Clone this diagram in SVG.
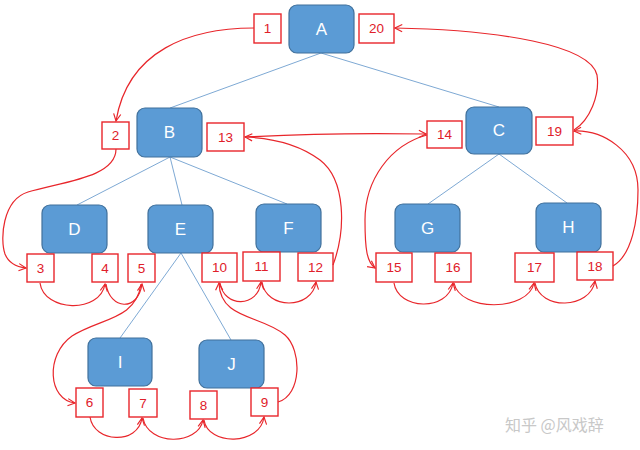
<svg xmlns="http://www.w3.org/2000/svg" width="640" height="450" viewBox="0 0 640 450">
<style>
.node rect{fill:#5b9bd5;stroke:#41719c;stroke-width:1.2}
.node text{fill:#ffffff;font-family:"Liberation Sans",Arial,sans-serif;font-size:17px;text-anchor:middle;dominant-baseline:central}
.num rect{fill:#ffffff;stroke:#e8262b;stroke-width:1.4}
.num text{fill:#e0202a;font-family:"Liberation Sans",Arial,sans-serif;font-size:13.5px;text-anchor:middle;dominant-baseline:central}
.tree line{stroke:#7ea9d4;stroke-width:1}
.red path{fill:none;stroke:#e8262b;stroke-width:1.2;marker-end:url(#ah)}
.wm{fill:#c8c8c8;font-family:"Noto Sans CJK SC","Liberation Sans",sans-serif;font-size:16px}
</style>
<defs>
<marker id="ah" viewBox="0 0 10 10" refX="9" refY="5" markerWidth="9" markerHeight="9" markerUnits="userSpaceOnUse" orient="auto">
<path d="M1,1 L9,5 L1,9" fill="none" stroke="#e8262b" stroke-width="1.3"/>
</marker>
</defs>
<rect width="640" height="450" fill="#ffffff"/>
<g id="tree-edges" class="tree">
<line x1="321" y1="53" x2="170" y2="108"/>
<line x1="321" y1="53" x2="499" y2="107"/>
<line x1="170" y1="157" x2="77" y2="205"/>
<line x1="170" y1="157" x2="182" y2="205"/>
<line x1="170" y1="157" x2="287" y2="204"/>
<line x1="499" y1="154" x2="428" y2="204"/>
<line x1="499" y1="154" x2="567" y2="203"/>
<line x1="181" y1="253" x2="120" y2="338"/>
<line x1="181" y1="253" x2="231" y2="340"/>
</g>
<g id="nodeA" class="node"><rect x="289" y="5" width="65" height="48" rx="8"/><text x="321.5" y="29">A</text></g>
<g id="nodeB" class="node"><rect x="137" y="108" width="65" height="49" rx="8"/><text x="169.5" y="132.5">B</text></g>
<g id="nodeC" class="node"><rect x="466" y="107" width="66" height="47" rx="8"/><text x="499" y="130.5">C</text></g>
<g id="nodeD" class="node"><rect x="42" y="205" width="65" height="48" rx="8"/><text x="74.5" y="229">D</text></g>
<g id="nodeE" class="node"><rect x="148" y="205" width="65" height="48" rx="8"/><text x="180.5" y="229">E</text></g>
<g id="nodeF" class="node"><rect x="256" y="204" width="65" height="48" rx="8"/><text x="288.5" y="228">F</text></g>
<g id="nodeG" class="node"><rect x="395" y="204" width="65" height="48" rx="8"/><text x="427.5" y="228">G</text></g>
<g id="nodeH" class="node"><rect x="536" y="203" width="65" height="49" rx="8"/><text x="568.5" y="227.5">H</text></g>
<g id="nodeI" class="node"><rect x="88" y="338" width="64" height="48" rx="8"/><text x="120" y="362">I</text></g>
<g id="nodeJ" class="node"><rect x="199" y="340" width="65" height="48" rx="8"/><text x="231.5" y="364">J</text></g>
<g id="s1" class="num"><rect x="254" y="14" width="27" height="29"/><text x="267.5" y="28.5">1</text></g>
<g id="s2" class="num"><rect x="102" y="122" width="27" height="27"/><text x="115.5" y="135.5">2</text></g>
<g id="s3" class="num"><rect x="27" y="254" width="27" height="28"/><text x="40.5" y="268">3</text></g>
<g id="s4" class="num"><rect x="92" y="254" width="26" height="28"/><text x="105" y="268">4</text></g>
<g id="s5" class="num"><rect x="128" y="254" width="27" height="28"/><text x="141.5" y="268">5</text></g>
<g id="s6" class="num"><rect x="76" y="388" width="27" height="29"/><text x="89.5" y="402.5">6</text></g>
<g id="s7" class="num"><rect x="129" y="389" width="28" height="28"/><text x="143" y="403">7</text></g>
<g id="s8" class="num"><rect x="190" y="391" width="27" height="28"/><text x="203.5" y="405">8</text></g>
<g id="s9" class="num"><rect x="251" y="388" width="27" height="28"/><text x="264.5" y="402">9</text></g>
<g id="s10" class="num"><rect x="202" y="253" width="35" height="29"/><text x="219.5" y="267.5">10</text></g>
<g id="s11" class="num"><rect x="243" y="252" width="37" height="29"/><text x="261.5" y="266.5">11</text></g>
<g id="s12" class="num"><rect x="298" y="253" width="35" height="28"/><text x="315.5" y="267">12</text></g>
<g id="s13" class="num"><rect x="207" y="123" width="37" height="28"/><text x="225.5" y="137">13</text></g>
<g id="s14" class="num"><rect x="427" y="121" width="35" height="27"/><text x="444.5" y="134.5">14</text></g>
<g id="s15" class="num"><rect x="376" y="253" width="36" height="29"/><text x="394" y="267.5">15</text></g>
<g id="s16" class="num"><rect x="435" y="253" width="36" height="29"/><text x="453" y="267.5">16</text></g>
<g id="s17" class="num"><rect x="515" y="253" width="39" height="29"/><text x="534.5" y="267.5">17</text></g>
<g id="s18" class="num"><rect x="577" y="252" width="36" height="28"/><text x="595" y="266">18</text></g>
<g id="s19" class="num"><rect x="536" y="117" width="37" height="28"/><text x="554.5" y="131">19</text></g>
<g id="s20" class="num"><rect x="359" y="14" width="35" height="29"/><text x="376.5" y="28.5">20</text></g>
<g id="traversal" class="red">
<path d="M254,28 C190,28 128,50 116,121"/>
<path d="M116,149 C116,178 60,182 28,192 C2,200 0,240 5,254 C9,264 17,267 26,268"/>
<path d="M40,283 C44,312 100,314 105,284"/>
<path d="M106,284 C110,310 138,312 142,284"/>
<path d="M141,284 C136,320 100,318 72,336 C45,355 48,400 75,403"/>
<path d="M90,417 C94,443 138,445 142,418"/>
<path d="M143,418 C148,446 198,446 203,420"/>
<path d="M204,420 C208,446 260,446 264,417"/>
<path d="M278,402 C302,395 302,350 285,335 C262,315 220,320 219,283"/>
<path d="M220,283 C224,308 258,308 261,282"/>
<path d="M262,282 C266,310 312,310 316,282"/>
<path d="M333,265 C346,230 346,180 320,160 C300,145 272,138 245,137"/>
<path d="M245,137 C300,134 370,133 426,134"/>
<path d="M427,135 C390,145 365,180 365,220 C365,250 367,262 375,268"/>
<path d="M394,283 C398,310 448,312 453,283"/>
<path d="M454,283 C460,312 528,312 534,283"/>
<path d="M535,283 C540,310 590,310 595,281"/>
<path d="M613,266 C632,255 638,220 638,190 C638,150 602,130 574,131"/>
<path d="M574,130 C590,120 600,95 597,75 C590,45 500,30 395,28"/>
</g>
<text class="wm" x="505" y="431">知乎 @风戏辞</text>
</svg>
